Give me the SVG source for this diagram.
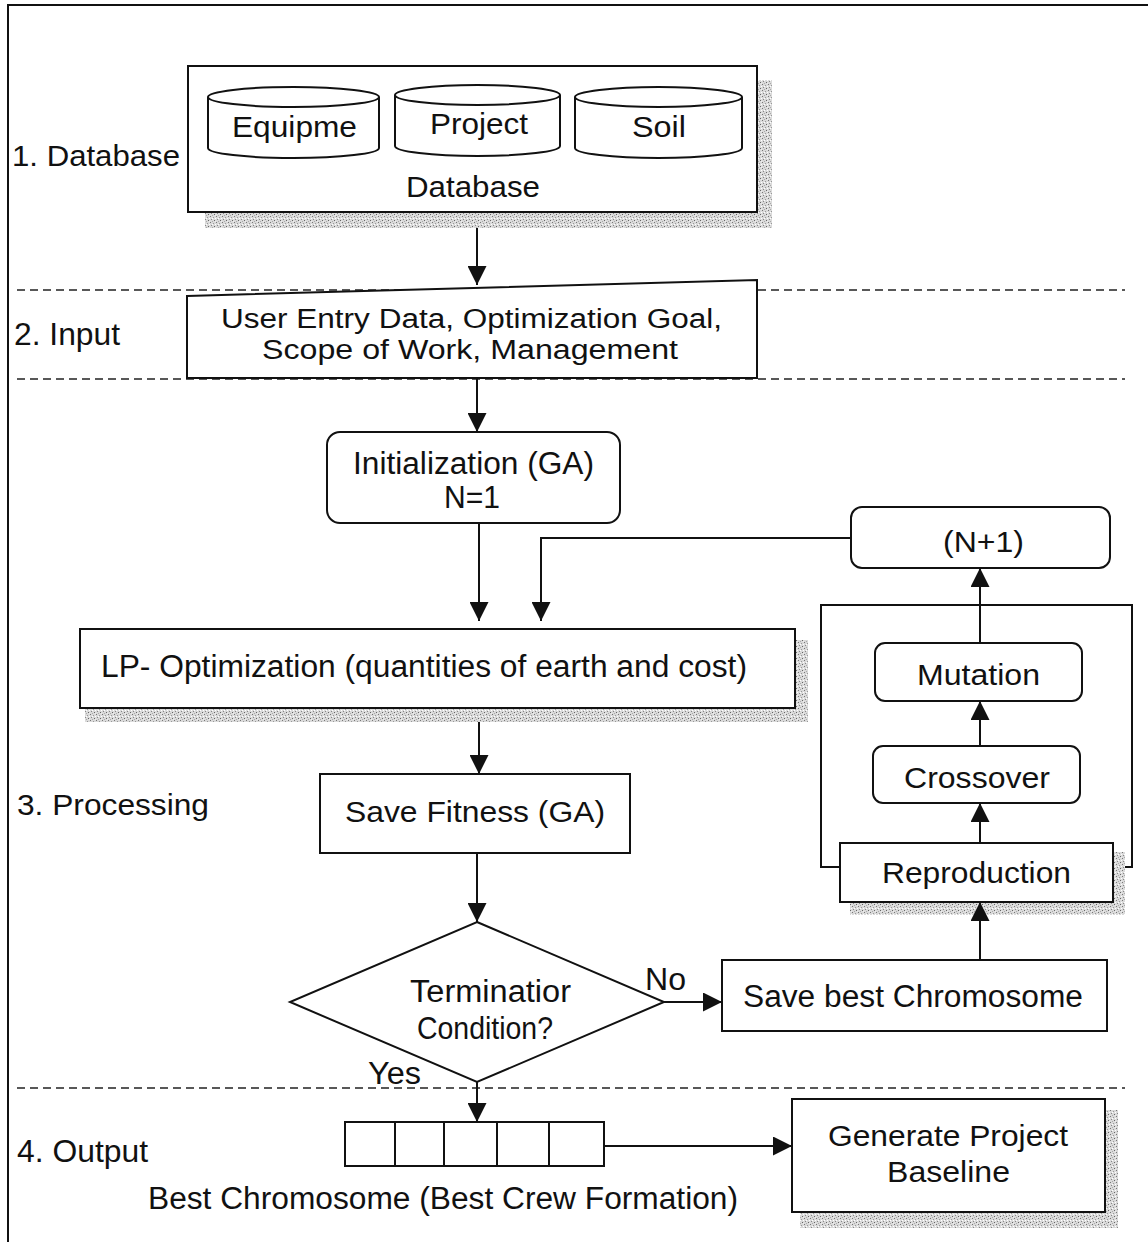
<svg xmlns="http://www.w3.org/2000/svg" width="1148" height="1242" viewBox="0 0 1148 1242">
  <style>
    .box { fill: #fff; stroke: #111; stroke-width: 2; }
    .t { font-family: "Liberation Sans", Arial, sans-serif; font-size: 29px; fill: #111; }
    .n { font-size: 31px; }
    .s { font-size: 27px; }
    .dash { stroke: #222; stroke-width: 1.6; stroke-dasharray: 8 5; fill: none; }
    .wire { stroke: #111; stroke-width: 2; fill: none; }
    .shadow { fill: url(#stipple); }
  </style>
  <defs>
    <marker id="arrow" viewBox="0 0 10 10" refX="10" refY="5" markerWidth="19" markerHeight="19" markerUnits="userSpaceOnUse" orient="auto">
      <path d="M0,0 L10,5 L0,10 z" fill="#111"/>
    </marker>
    <!-- speckled grey used for drop shadows -->
    <pattern id="stipple" width="6" height="6" patternUnits="userSpaceOnUse">
      <rect width="6" height="6" fill="#dadada"/>
      <rect x="0" y="0" width="1" height="1" fill="#777"/>
      <rect x="3" y="1" width="1" height="1" fill="#999"/>
      <rect x="1" y="3" width="1" height="1" fill="#888"/>
      <rect x="4" y="4" width="1" height="1" fill="#666"/>
      <rect x="2" y="5" width="1" height="1" fill="#aaa"/>
      <rect x="5" y="2" width="1" height="1" fill="#fff"/>
      <rect x="2" y="2" width="1" height="1" fill="#fff"/>
      <rect x="5" y="5" width="1" height="1" fill="#eee"/>
    </pattern>
  </defs>

  <rect width="1148" height="1242" fill="#fff"/>

  <!-- outer frame (top and left edges) -->
  <path d="M8,1242 V5 H1148" class="wire"/>

  <!-- stage separators -->
  <g id="separators">
    <line x1="17" y1="290" x2="1125" y2="290" class="dash"/>
    <line x1="17" y1="379" x2="1125" y2="379" class="dash"/>
    <line x1="17" y1="1088" x2="1125" y2="1088" class="dash"/>
  </g>

  <!-- stage labels -->
  <g id="stage-labels">
    <text class="t" x="12" y="166" textLength="168" lengthAdjust="spacingAndGlyphs">1. Database</text>
    <text class="t n" x="14" y="345" textLength="106" lengthAdjust="spacingAndGlyphs">2. Input</text>
    <text class="t" x="17" y="815" textLength="192" lengthAdjust="spacingAndGlyphs">3. Processing</text>
    <text class="t n" x="17" y="1162" textLength="131" lengthAdjust="spacingAndGlyphs">4. Output</text>
  </g>

  <!-- database container with three tables -->
  <g id="database">
    <rect class="shadow" x="757" y="80" width="15" height="148"/>
    <rect class="shadow" x="205" y="212" width="567" height="16"/>
    <rect class="box" x="188" y="66" width="569" height="146"/>
    <g id="db-equipment">
      <path class="box" d="M208,97 V148 A85.5,10 0 0 0 379,148 V97 A85.5,10 0 0 0 208,97 A85.5,10 0 0 0 379,97"/>
      <text class="t" x="232" y="137" textLength="125" lengthAdjust="spacingAndGlyphs">Equipme</text>
    </g>
    <g id="db-project">
      <path class="box" d="M395,95 V146 A82.5,10 0 0 0 560,146 V95 A82.5,10 0 0 0 395,95 A82.5,10 0 0 0 560,95"/>
      <text class="t" x="430" y="134" textLength="98" lengthAdjust="spacingAndGlyphs">Project</text>
    </g>
    <g id="db-soil">
      <path class="box" d="M575,97 V148 A83.5,10 0 0 0 742,148 V97 A83.5,10 0 0 0 575,97 A83.5,10 0 0 0 742,97"/>
      <text class="t" x="632" y="137" textLength="54" lengthAdjust="spacingAndGlyphs">Soil</text>
    </g>
    <text class="t" x="406" y="197" textLength="134" lengthAdjust="spacingAndGlyphs">Database</text>
  </g>

  <!-- manual input -->
  <g id="input">
    <polygon class="box" points="187,296 757,280 757,378 187,378"/>
    <text class="t s" x="221" y="328" textLength="501" lengthAdjust="spacingAndGlyphs">User Entry Data, Optimization Goal,</text>
    <text class="t s" x="262" y="359" textLength="416" lengthAdjust="spacingAndGlyphs">Scope of Work, Management</text>
  </g>

  <g id="init">
    <rect class="box" x="327" y="432" width="293" height="91" rx="13"/>
    <text class="t n" x="353" y="474" textLength="241" lengthAdjust="spacingAndGlyphs">Initialization (GA)</text>
    <text class="t n" x="444" y="508" textLength="56" lengthAdjust="spacingAndGlyphs">N=1</text>
  </g>

  <g id="next-gen">
    <rect class="box" x="851" y="507" width="259" height="61" rx="11"/>
    <text class="t" x="943" y="552" textLength="81" lengthAdjust="spacingAndGlyphs">(N+1)</text>
  </g>

  <g id="lp">
    <rect class="shadow" x="795" y="640" width="13" height="82"/>
    <rect class="shadow" x="85" y="708" width="723" height="14"/>
    <rect class="box" x="80" y="629" width="715" height="79"/>
    <text class="t n" x="101" y="677" textLength="646" lengthAdjust="spacingAndGlyphs">LP- Optimization (quantities of earth and cost)</text>
  </g>

  <!-- genetic operators container -->
  <g id="ga-ops">
    <rect class="wire" x="821" y="605" width="311" height="262"/>
  </g>

  <g id="mutation">
    <rect class="box" x="875" y="643" width="207" height="58" rx="10"/>
    <text class="t" x="917" y="685" textLength="123" lengthAdjust="spacingAndGlyphs">Mutation</text>
  </g>

  <g id="crossover">
    <rect class="box" x="873" y="746" width="207" height="57" rx="10"/>
    <text class="t" x="904" y="788" textLength="146" lengthAdjust="spacingAndGlyphs">Crossover</text>
  </g>

  <g id="reproduction">
    <rect class="shadow" x="1113" y="852" width="12" height="63"/>
    <rect class="shadow" x="850" y="902" width="275" height="13"/>
    <rect class="box" x="840" y="843" width="273" height="59"/>
    <text class="t" x="882" y="883" textLength="189" lengthAdjust="spacingAndGlyphs">Reproduction</text>
  </g>

  <g id="save-fitness">
    <rect class="box" x="320" y="774" width="310" height="79"/>
    <text class="t" x="345" y="822" textLength="260" lengthAdjust="spacingAndGlyphs">Save Fitness (GA)</text>
  </g>

  <g id="termination">
    <polygon class="box" points="477,922 664,1002 477,1082 290,1002"/>
    <text class="t n" x="410" y="1002" textLength="161" lengthAdjust="spacingAndGlyphs">Terminatior</text>
    <text class="t n" x="417" y="1039" textLength="136" lengthAdjust="spacingAndGlyphs">Condition?</text>
  </g>

  <g id="save-best">
    <rect class="box" x="722" y="960" width="385" height="71"/>
    <text class="t n" x="743" y="1007" textLength="340" lengthAdjust="spacingAndGlyphs">Save best Chromosome</text>
  </g>

  <g id="best-chromosome">
    <rect class="box" x="345" y="1122" width="259" height="44"/>
    <path class="wire" d="M395,1122 V1166 M444,1122 V1166 M497,1122 V1166 M549,1122 V1166"/>
    <text class="t n" x="148" y="1209" textLength="590" lengthAdjust="spacingAndGlyphs">Best Chromosome (Best Crew Formation)</text>
  </g>

  <g id="baseline">
    <rect class="shadow" x="1105" y="1110" width="13" height="118"/>
    <rect class="shadow" x="800" y="1212" width="318" height="16"/>
    <rect class="box" x="792" y="1099" width="313" height="113"/>
    <text class="t" x="828" y="1146" textLength="240" lengthAdjust="spacingAndGlyphs">Generate Project</text>
    <text class="t" x="887" y="1182" textLength="123" lengthAdjust="spacingAndGlyphs">Baseline</text>
  </g>

  <!-- connectors -->
  <g id="connectors" class="wire">
    <path d="M477,228 V285" marker-end="url(#arrow)"/>
    <path d="M477,379 V432" marker-end="url(#arrow)"/>
    <path d="M479,523 V621" marker-end="url(#arrow)"/>
    <path d="M851,538 H541 V621" marker-end="url(#arrow)"/>
    <path d="M479,722 V774" marker-end="url(#arrow)"/>
    <path d="M477,853 V922" marker-end="url(#arrow)"/>
    <path d="M664,1002 H722" marker-end="url(#arrow)"/>
    <path d="M980,960 V902" marker-end="url(#arrow)"/>
    <path d="M980,843 V803" marker-end="url(#arrow)"/>
    <path d="M980,746 V701" marker-end="url(#arrow)"/>
    <path d="M980,643 V568" marker-end="url(#arrow)"/>
    <path d="M477,1082 V1122" marker-end="url(#arrow)"/>
    <path d="M604,1146 H792" marker-end="url(#arrow)"/>
  </g>

  <g id="branch-labels">
    <text class="t n" x="645" y="990" textLength="41" lengthAdjust="spacingAndGlyphs">No</text>
    <text class="t n" x="368" y="1084" textLength="53" lengthAdjust="spacingAndGlyphs">Yes</text>
  </g>
</svg>
